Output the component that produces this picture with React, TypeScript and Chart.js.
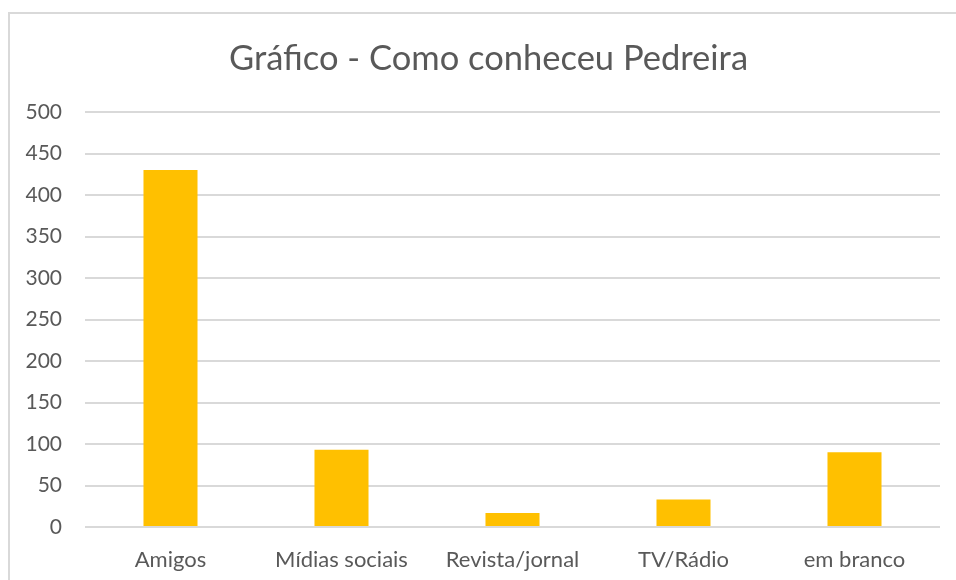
import React, { useEffect, useRef } from "react";
import { Chart, registerables } from "chart.js";

Chart.register(...registerables);

const categories = ["Amigos", "Mídias sociais", "Revista/jornal", "TV/Rádio", "em branco"];
const values = [430, 93, 17, 33, 90];
const titleText = "Gráfico - Como conheceu Pedreira";
const yMin = 0;
const yMax = 500;
const yStep = 50;

const titlePlugin = {
  id: "excelTitle",
  afterDraw(chart: any) {
    const ctx = chart.ctx;
    ctx.save();
    ctx.font = "normal 34.5px Lato";
    ctx.fillStyle = "#595959";
    ctx.textAlign = "center";
    ctx.textBaseline = "alphabetic";
    ctx.fillText(titleText, 488.5, 69.5);
    ctx.restore();
  },
};

export default function App() {
  const ref = useRef<HTMLCanvasElement | null>(null);

  useEffect(() => {
    if (!ref.current) return;
    const chart = new Chart(ref.current, {
      type: "bar",
      data: {
        labels: categories,
        datasets: [
          {
            data: values,
            backgroundColor: "#FFC000",
            borderWidth: 0,
            categoryPercentage: 1,
            barPercentage: 0.316,
          },
        ],
      },
      plugins: [titlePlugin],
      options: {
        animation: false,
        responsive: false,
        maintainAspectRatio: false,
        layout: { padding: { left: 0, right: 16, top: 112, bottom: 0 } },
        plugins: {
          legend: { display: false },
          tooltip: { enabled: false },
          title: { display: false },
        },
        scales: {
          x: {
            grid: { display: false },
            border: { display: false },
            ticks: {
              color: "#595959",
              font: { family: "Lato", size: 22 },
              padding: 12,
              maxRotation: 0,
              autoSkip: false,
            },
            afterFit: (s: any) => {
              s.height = 53;
            },
          },
          y: {
            min: yMin,
            max: yMax,
            grid: { color: "#d9d9d9", lineWidth: 2, drawTicks: false },
            border: { display: false },
            ticks: {
              stepSize: yStep,
              color: "#595959",
              font: { family: "Lato", size: 21 },
              padding: 23,
            },
            afterFit: (s: any) => {
              s.width = 85;
            },
          },
        },
      },
    });
    return () => chart.destroy();
  }, []);

  return (
    <div style={{ position: "absolute", left: 0, top: 0, width: 956, height: 580, overflow: "hidden", background: "#fff" }}>
      <div
        style={{
          position: "absolute",
          left: 8,
          top: 12,
          width: 980,
          height: 620,
          border: "2px solid #d9d9d9",
          boxSizing: "border-box",
        }}
      />
      <canvas ref={ref} width={956} height={580} style={{ position: "absolute", left: 0, top: 0 }} />
    </div>
  );
}
